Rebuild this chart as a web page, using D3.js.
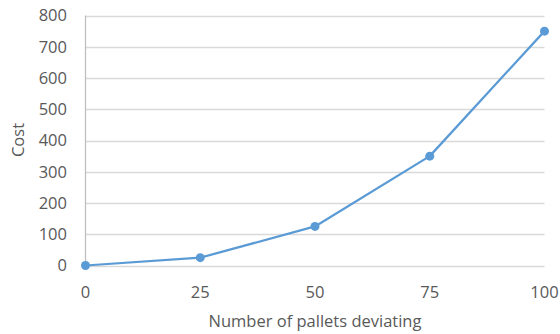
<!DOCTYPE html>
<html><head><meta charset="utf-8">
<script src="https://cdn.jsdelivr.net/npm/d3@7"></script>
<style>body{margin:0;background:#fff}svg{display:block}</style>
</head><body><svg id="c" width="560" height="334"></svg>
<script>
const xValues = [0, 25, 50, 75, 100];
const costValues = [0, 25, 125, 350, 750];
const yTicks = [0, 100, 200, 300, 400, 500, 600, 700, 800];
const xTitle = "Number of pallets deviating";
const yTitle = "Cost";

const svg = d3.select("#c");
const font = "'Open Sans', sans-serif";
const fs = 16.5;
const x = d3.scaleLinear().domain([0, 100]).range([85.5, 544.5]);
const y = d3.scaleLinear().domain([0, 800]).range([265.5, 15.5]);

svg.append("g").selectAll("line").data(yTicks).join("line")
  .attr("x1", x(0)).attr("x2", x(100))
  .attr("y1", d => Math.round(y(d)) + 0.5).attr("y2", d => Math.round(y(d)) + 0.5)
  .attr("stroke", "#d9d9d9").attr("stroke-width", 1.3);
svg.append("line").attr("x1", x(0)).attr("x2", x(0)).attr("y1", y(800)).attr("y2", y(0))
  .attr("stroke", "#bfbfbf").attr("stroke-width", 1.3);

svg.append("g").selectAll("text").data(yTicks).join("text")
  .attr("x", 67).attr("y", d => y(d)).attr("dy", "0.35em")
  .attr("text-anchor", "end").attr("font-family", font).attr("font-size", fs)
  .attr("fill", "#595959").text(d => d);
svg.append("g").selectAll("text").data(xValues).join("text")
  .attr("x", d => x(d)).attr("y", 298)
  .attr("text-anchor", "middle").attr("font-family", font).attr("font-size", fs)
  .attr("fill", "#595959").text(d => d);

svg.append("text").attr("x", 315).attr("y", 327).attr("text-anchor", "middle")
  .attr("font-family", font).attr("font-size", fs).attr("fill", "#595959").text(xTitle);
svg.append("text").attr("transform", "translate(24,140) rotate(-90)").attr("text-anchor", "middle")
  .attr("font-family", font).attr("font-size", fs).attr("fill", "#595959").text(yTitle);

const data = xValues.map((v, i) => ({x: v, y: costValues[i]}));
svg.append("path").datum(data)
  .attr("d", d3.line().x(d => x(d.x)).y(d => y(d.y)))
  .attr("fill", "none").attr("stroke", "#5b9bd5").attr("stroke-width", 2.25).attr("stroke-linejoin", "round");
svg.append("g").selectAll("circle").data(data).join("circle")
  .attr("cx", d => x(d.x)).attr("cy", d => y(d.y)).attr("r", 4.5).attr("fill", "#5b9bd5");
</script></body></html>
